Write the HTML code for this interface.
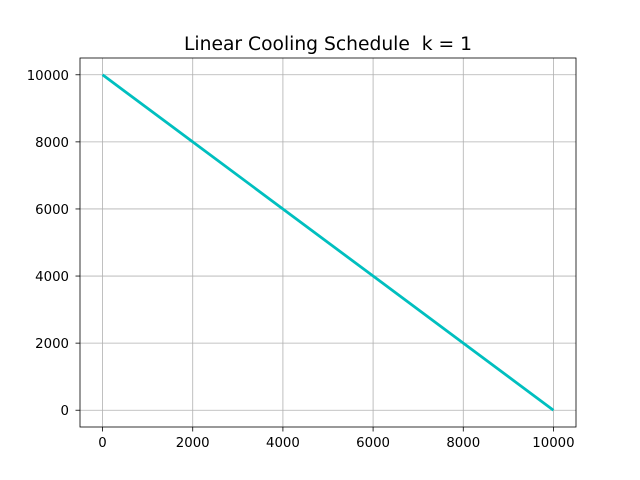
<!DOCTYPE html>
<html><head><meta charset="utf-8"><style>
body{margin:0;background:#fff;}
svg{display:block;font-family:"DejaVu Sans","Liberation Sans",sans-serif;}
</style></head><body>
<svg id="chart" width="640" height="480">
<rect width="640" height="480" fill="#fff"/>
<text x="328" y="50" font-size="18.7" text-anchor="middle" style="white-space:pre" xml:space="preserve">Linear Cooling Schedule  k = 1</text>
<g id="grid"></g>
<g id="series"></g>
<g id="axes"></g>
</svg>
<script>
const xValues = [0, 2000, 4000, 6000, 8000, 10000];
const yValues = [10000, 8000, 6000, 4000, 2000, 0];
const xTicks = [0, 2000, 4000, 6000, 8000, 10000];
const yTicks = [0, 2000, 4000, 6000, 8000, 10000];
const xDomain = [-500, 10500];
const yDomain = [-500, 10500];

const L = 80, R = 576, T = 58, B = 427;
const ns = "http://www.w3.org/2000/svg";
function sx(v){return L + (v - xDomain[0]) / (xDomain[1] - xDomain[0]) * (R - L);}
function sy(v){return B - (v - yDomain[0]) / (yDomain[1] - yDomain[0]) * (B - T);}
function mk(tag, attrs, parent){
  const e = document.createElementNS(ns, tag);
  for (const k in attrs) e.setAttribute(k, attrs[k]);
  parent.appendChild(e);
  return e;
}
const grid = document.getElementById('grid');
const axes = document.getElementById('axes');
const series = document.getElementById('series');

xTicks.forEach(t => {
  const x = sx(t);
  const g = mk('line', {x1:x, x2:x, y1:T, y2:B, stroke:'#b0b0b0', 'stroke-width':0.8}, grid);
  
  
  const tk = mk('line', {x1:x, x2:x, y1:B, y2:B+4.5, stroke:'#000', 'stroke-width':0.8}, axes);
  
  
  const lb = mk('text', {x:x, y:B+20, 'font-size':13.3, 'text-anchor':'middle'}, axes);
  lb.textContent = t;
  
  
});
yTicks.forEach(t => {
  const y = sy(t);
  const g = mk('line', {x1:L, x2:R, y1:y, y2:y, stroke:'#b0b0b0', 'stroke-width':0.8}, grid);
  
  
  const tk = mk('line', {x1:L-4.5, x2:L, y1:y, y2:y, stroke:'#000', 'stroke-width':0.8}, axes);
  
  
  const lb = mk('text', {x:L-11, y:y+5, 'font-size':13.3, 'text-anchor':'end'}, axes);
  lb.textContent = t;
  
  
});
const frame = mk('rect', {x:L, y:T, width:R-L, height:B-T, fill:'none', stroke:'#000', 'stroke-width':0.8}, axes);



const pts = xValues.map((v, i) => sx(v) + ',' + sy(yValues[i])).join(' ');
const line = mk('polyline', {points:pts, fill:'none', stroke:'#00bfbf', 'stroke-width':2.8}, series);


</script>
</body></html>
